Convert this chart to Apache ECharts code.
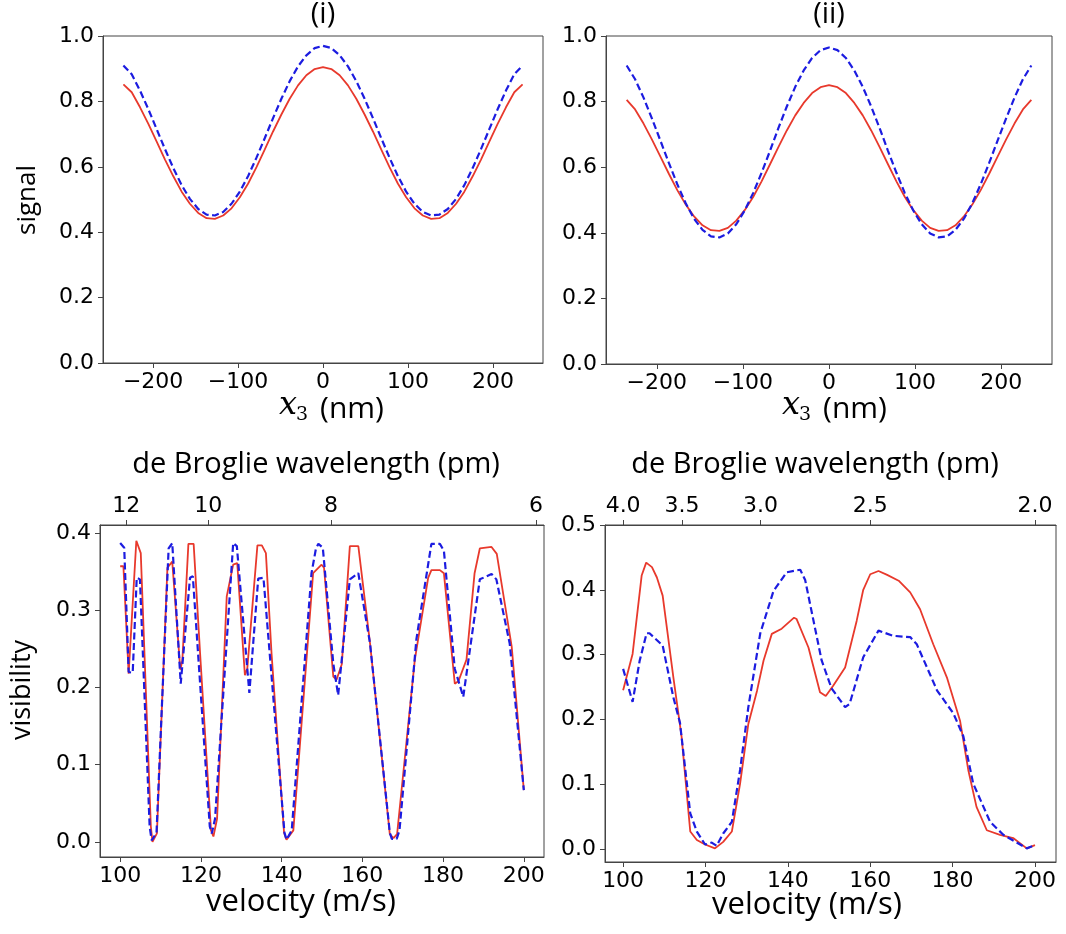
<!DOCTYPE html>
<html>
<head>
<meta charset="utf-8">
<script src="https://cdn.jsdelivr.net/npm/echarts@6/dist/echarts.min.js"></script>
<style>
html,body{margin:0;padding:0;background:#fff;}
#c{width:1066px;height:934px;}
</style>
</head>
<body>
<div id="c"></div>
<script>
// ---------- data ----------
// top panels: x3 position (nm)
var x3 = [-235,-225.2,-215.4,-205.6,-195.8,-186,-176.2,-166.4,-156.7,-146.9,-137.1,-127.3,-117.5,-107.7,-97.9,-88.1,-78.3,-68.5,-58.8,-49,-39.2,-29.4,-19.6,-9.8,0,9.8,19.6,29.4,39.2,49,58.8,68.5,78.3,88.1,97.9,107.7,117.5,127.3,137.1,146.9,156.7,166.4,176.2,186,195.8,205.6,215.4,225.2,235];
var sigRedI  = [0.852,0.828,0.782,0.731,0.677,0.622,0.571,0.524,0.487,0.459,0.443,0.441,0.451,0.473,0.507,0.549,0.599,0.653,0.708,0.760,0.808,0.849,0.880,0.899,0.905,0.899,0.880,0.849,0.808,0.760,0.708,0.653,0.599,0.549,0.507,0.473,0.451,0.441,0.443,0.459,0.487,0.524,0.571,0.622,0.677,0.731,0.782,0.828,0.852];
var sigBlueI = [0.910,0.883,0.833,0.776,0.715,0.654,0.596,0.544,0.502,0.471,0.454,0.451,0.462,0.487,0.524,0.572,0.628,0.688,0.749,0.808,0.862,0.907,0.941,0.963,0.970,0.963,0.941,0.907,0.862,0.808,0.749,0.688,0.628,0.572,0.524,0.487,0.462,0.451,0.454,0.471,0.502,0.544,0.596,0.654,0.715,0.776,0.833,0.883,0.910];
var sigRedII = [0.805,0.776,0.733,0.684,0.632,0.580,0.530,0.486,0.450,0.423,0.408,0.406,0.415,0.437,0.469,0.509,0.557,0.609,0.661,0.712,0.758,0.796,0.826,0.844,0.850,0.844,0.826,0.796,0.758,0.712,0.661,0.609,0.557,0.509,0.469,0.437,0.415,0.406,0.408,0.423,0.450,0.486,0.530,0.580,0.632,0.684,0.733,0.776,0.805];
var sigBlueII= [0.910,0.868,0.812,0.748,0.681,0.613,0.548,0.490,0.443,0.409,0.389,0.386,0.398,0.426,0.468,0.521,0.583,0.650,0.719,0.785,0.845,0.895,0.933,0.957,0.965,0.957,0.933,0.895,0.845,0.785,0.719,0.650,0.583,0.521,0.468,0.426,0.398,0.386,0.389,0.409,0.443,0.490,0.548,0.613,0.681,0.748,0.812,0.868,0.910];

// bottom-left panel: [velocity (m/s), visibility]
var visRedL = [[100,0.357],[100.8,0.357],[102.1,0.218],[104,0.390],[105.1,0.374],[107.6,0.020],[108,0.000],[109.1,0.011],[111.7,0.355],[112.9,0.363],[114.9,0.223],[115.4,0.235],[116.9,0.386],[118.2,0.386],[119.8,0.244],[122.5,0.015],[123.1,0.007],[124,0.030],[126.4,0.318],[128,0.359],[129,0.361],[130.9,0.216],[131.5,0.225],[134,0.384],[135.1,0.384],[136.1,0.374],[137.5,0.244],[140.6,0.012],[141.2,0.003],[142.9,0.015],[147.8,0.348],[149.9,0.359],[150.5,0.355],[152.8,0.214],[153.6,0.210],[154.9,0.230],[156.9,0.383],[159,0.383],[161.9,0.257],[166.8,0.010],[167.7,0.005],[168.6,0.010],[173,0.236],[176.3,0.342],[177.1,0.352],[179.2,0.352],[180.2,0.348],[182.9,0.205],[183.8,0.208],[185.8,0.236],[187.8,0.348],[189.1,0.380],[192,0.382],[193.3,0.373],[197,0.253],[200,0.067]];
var visBlueL = [[100,0.387],[101,0.381],[102.1,0.220],[103.1,0.219],[104.1,0.342],[104.9,0.340],[107.3,0.020],[107.8,0.002],[109,0.012],[112,0.380],[112.9,0.387],[115,0.205],[117.3,0.342],[118,0.344],[122.2,0.020],[122.7,0.011],[123.5,0.030],[128,0.387],[128.9,0.383],[132,0.193],[134.2,0.341],[135.5,0.342],[140.7,0.012],[141.2,0.003],[142.5,0.015],[147.4,0.348],[148.5,0.380],[149.1,0.386],[150.2,0.381],[152.8,0.231],[154,0.190],[156.9,0.340],[159,0.348],[161.9,0.257],[166.8,0.012],[167.3,0.004],[168.5,0.004],[169.2,0.015],[173.4,0.263],[177.1,0.386],[179.2,0.386],[180.2,0.377],[182.9,0.224],[185,0.188],[189.1,0.340],[192,0.347],[193.2,0.340],[196.5,0.257],[200,0.067]];

// bottom-right panel
var visRedR = [[100,0.245],[102.3,0.301],[104.5,0.422],[105.6,0.442],[107,0.435],[108.2,0.419],[109.6,0.391],[112.2,0.265],[114.2,0.173],[116.3,0.027],[117.9,0.014],[119.9,0.007],[122.3,0.001],[124.3,0.011],[126.4,0.027],[128.4,0.101],[130.4,0.193],[132.5,0.244],[134.1,0.291],[136.1,0.332],[138.5,0.340],[141.5,0.357],[142.1,0.355],[145,0.311],[147.8,0.242],[149.2,0.236],[151,0.252],[153.9,0.280],[156.7,0.352],[158.3,0.400],[160,0.424],[162,0.429],[164.1,0.423],[166.9,0.414],[169.7,0.396],[172.1,0.370],[175.3,0.316],[178.6,0.265],[181.8,0.198],[183.8,0.122],[185.8,0.065],[188.3,0.029],[191.5,0.022],[194.7,0.017],[198,0.001],[200,0.006]];
var visBlueR = [[100,0.278],[102.3,0.227],[104,0.290],[105.7,0.333],[106.4,0.333],[109.6,0.314],[112.2,0.234],[113.8,0.195],[116.3,0.055],[117.9,0.027],[119.9,0.007],[121.5,0.010],[122.7,0.005],[124.3,0.024],[126.4,0.042],[128.4,0.122],[130.4,0.219],[133.3,0.333],[136.5,0.398],[139.7,0.427],[143,0.431],[144.2,0.415],[148.2,0.291],[150.6,0.248],[153.9,0.219],[155,0.224],[158.3,0.296],[162,0.337],[165.6,0.329],[169.7,0.327],[171.3,0.316],[176.2,0.245],[180.2,0.209],[182.6,0.174],[185,0.101],[189.1,0.042],[192.3,0.022],[198,0.001],[200,0.006]];

// tick labels
var x3Ticks = [-200,-100,0,100,200];
var signalTicks = [0,0.2,0.4,0.6,0.8,1.0];
var velTicks = [100,120,140,160,180,200];
var visTicksL = [0,0.1,0.2,0.3,0.4];
var visTicksR = [0,0.1,0.2,0.3,0.4,0.5];
var lambdaTicksL = [12,10,8,6];
var lambdaTicksR = [4.0,3.5,3.0,2.5,2.0];
// lambda (pm) = K / v (m/s)
var K_L = 1218;
var K_R = 400;

// ---------- chart ----------
var AX = '#444';
var TICKFONT = 'DejaVu Sans';
var LABFONT = 'Open Sans';
var RED = '#e8392c';
var BLUE = '#1c1ce0';

function fmt1(v){ return (Math.round(v*10)/10).toFixed(1); }
function fmtInt(v){ v = Math.round(v); return v < 0 ? '\u2212' + (-v) : String(v); }

function xAx(grid, min, max, ticks, fmt, pos){
  return {
    type:'value', gridIndex:grid, min:min, max:max, position:pos||'bottom',
    splitLine:{show:false},
    axisLine:{show:true, onZero:false, lineStyle:{color:AX, width:1}},
    axisTick:{show:true, length:5, customValues:ticks, lineStyle:{color:AX, width:1}},
    axisLabel:{show:true, customValues:ticks, formatter:fmt, margin:8, color:'#000', fontFamily:TICKFONT, fontSize:22}
  };
}
function yAx(grid, min, max, ticks){
  return {
    type:'value', gridIndex:grid, min:min, max:max,
    splitLine:{show:false},
    axisLine:{show:true, onZero:false, lineStyle:{color:AX, width:1}},
    axisTick:{show:true, length:5, customValues:ticks, lineStyle:{color:AX, width:1}},
    axisLabel:{show:true, customValues:ticks, formatter:fmt1, margin:9, color:'#000', fontFamily:TICKFONT, fontSize:22}
  };
}

var grids = [
  {left:103, top:36, width:440, height:327},
  {left:606, top:36, width:446, height:328},
  {left:100, top:525, width:444, height:332},
  {left:605, top:525, width:451, height:337}
].map(function(g){ g.show = true; g.borderColor = AX; g.borderWidth = 1; g.backgroundColor = 'transparent'; g.containLabel = false; g.outerBoundsMode = 'none'; return g; });

var velL = lambdaTicksL.map(function(l){ return K_L / l; });
var velR = lambdaTicksR.map(function(l){ return K_R / l; });

var xAxes = [
  xAx(0, -259, 259, x3Ticks, fmtInt),
  xAx(1, -259, 259, x3Ticks, fmtInt),
  xAx(2, 95, 205, velTicks, fmtInt),
  xAx(2, 95, 205, velL, function(v){ return String(Math.round(K_L / v)); }, 'top'),
  xAx(3, 95.6, 205.1, velTicks, fmtInt),
  xAx(3, 95.6, 205.1, velR, function(v){ return (K_R / v).toFixed(1); }, 'top')
];
var yAxes = [
  yAx(0, 0, 1, signalTicks),
  yAx(1, 0, 1, signalTicks),
  yAx(2, -0.0195, 0.4104, visTicksL),
  yAx(3, -0.02, 0.5, visTicksR)
];

function pairs(xs, ys){ return xs.map(function(x,i){ return [x, ys[i]]; }); }
function red(data, xi, yi){ return {type:'line', xAxisIndex:xi, yAxisIndex:yi, data:data, showSymbol:false, symbol:'none', lineStyle:{color:RED, width:1.8}, z:2}; }
function blue(data, xi, yi){ return {type:'line', xAxisIndex:xi, yAxisIndex:yi, data:data, showSymbol:false, symbol:'none', lineStyle:{color:BLUE, width:2.2, type:[7,3.5]}, z:3}; }

var series = [
  red(pairs(x3, sigRedI), 0, 0), blue(pairs(x3, sigBlueI), 0, 0),
  red(pairs(x3, sigRedII), 1, 1), blue(pairs(x3, sigBlueII), 1, 1),
  red(visRedL, 2, 2), blue(visBlueL, 2, 2),
  red(visRedR, 4, 3), blue(visBlueR, 4, 3)
];

function txt(s, x, y, size, opts){
  opts = opts || {};
  return {type:'text', x:x, y:y, rotation:opts.rot||0, z:10,
    style:{text:s, fill:'#000', font:(opts.italic?'italic ':'') + size + 'px ' + (opts.family||('"'+LABFONT+'"')), align:'center', verticalAlign:'middle'}};
}

var graphics = [
  txt('(i)', 323, 15, 29),
  txt('(ii)', 829, 15, 29),
  txt('signal', 28, 200, 26, {rot:Math.PI/2}),
  txt('visibility', 22, 690, 27, {rot:Math.PI/2}),
  txt('x', 288, 406, 32, {italic:true, family:'"DejaVu Serif"'}),
  txt('3', 302, 415, 19, {family:'"DejaVu Serif"'}),
  txt('(nm)', 352, 409, 30),
  txt('x', 791, 406, 32, {italic:true, family:'"DejaVu Serif"'}),
  txt('3', 805, 415, 19, {family:'"DejaVu Serif"'}),
  txt('(nm)', 855, 409, 30),
  txt('de Broglie wavelength (pm)', 316, 465, 29),
  txt('de Broglie wavelength (pm)', 815, 465, 29),
  txt('velocity (m/s)', 301, 902, 31),
  txt('velocity (m/s)', 807, 905, 31)
];

var chart = echarts.init(document.getElementById('c'), null, {renderer:'canvas'});
chart.setOption({
  animation:false,
  backgroundColor:'#fff',
  grid:grids,
  xAxis:xAxes,
  yAxis:yAxes,
  series:series,
  graphic:graphics
});
</script>
</body>
</html>
